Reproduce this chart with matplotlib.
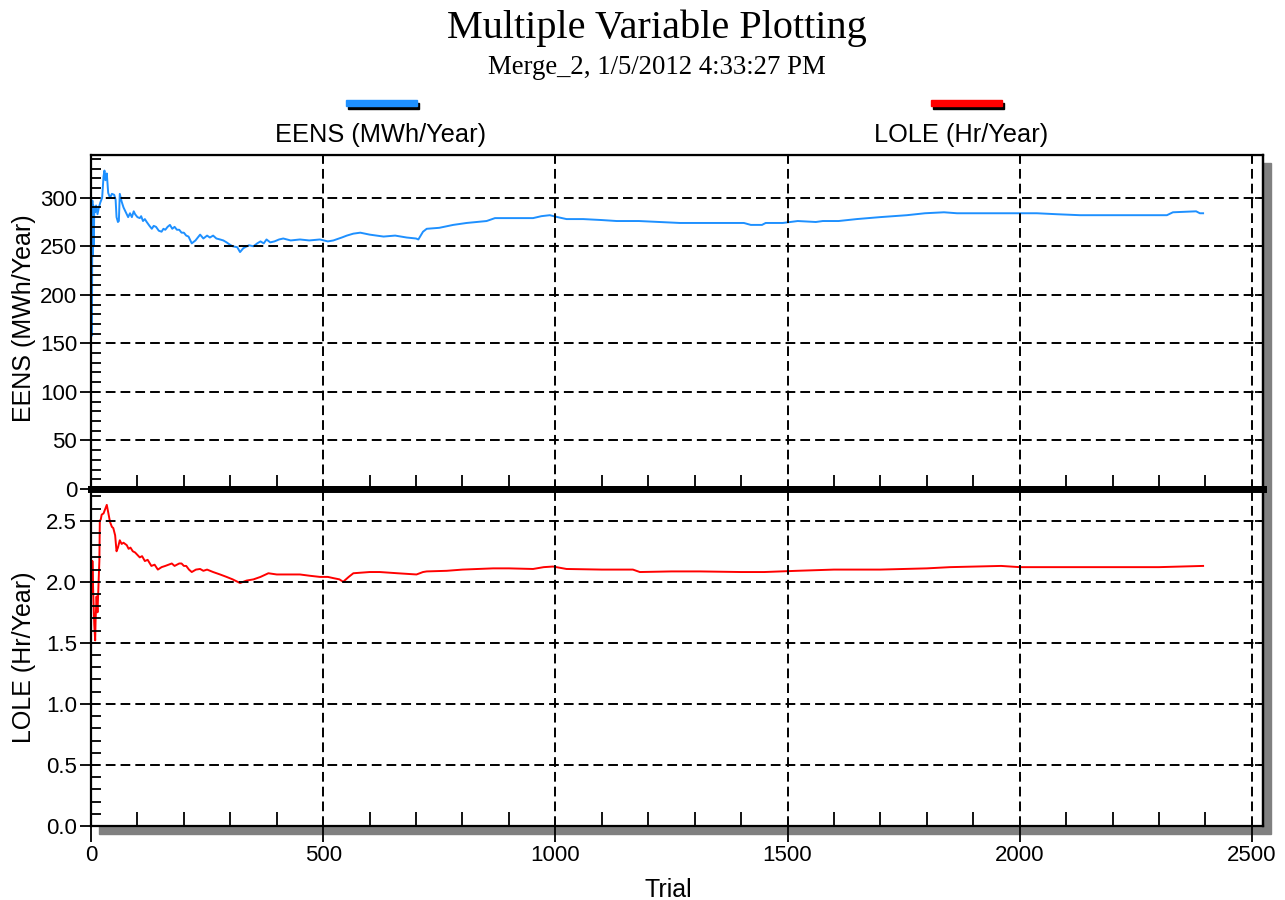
import matplotlib
matplotlib.use("Agg")
import matplotlib.pyplot as plt
from matplotlib.patches import Rectangle
from matplotlib.ticker import MultipleLocator, FormatStrFormatter

# figure size in pixels
W, H = 1285, 900

# EENS (MWh/Year)
eens_trial = [1, 2, 3, 4, 5, 6, 7, 9, 11, 14, 17, 20, 24, 27, 29, 31, 34, 37, 41, 45,
              50, 53, 55, 58, 60, 62, 66, 70, 75, 80, 84, 88, 92, 95, 100, 105, 108, 112,
              116, 120, 126, 131, 135, 140, 146, 152, 156, 160, 165, 170, 175, 180, 185,
              190, 195, 200, 205, 210, 217, 225, 230, 235, 242, 250, 256, 263, 270, 278,
              285, 292, 298, 305, 315, 321, 328, 340, 350, 358, 365, 372, 378, 386, 395,
              405, 414, 430, 450, 470, 493, 510, 522, 540, 551, 565, 580, 600, 630, 655,
              680, 700, 705, 715, 723, 750, 780, 809, 830, 852, 870, 900, 952, 970, 988,
              1005, 1024, 1060, 1100, 1132, 1180, 1225, 1268, 1311, 1350, 1406, 1421,
              1445, 1453, 1490, 1522, 1561, 1576, 1610, 1649, 1699, 1757, 1796, 1837,
              1865, 1950, 2037, 2080, 2130, 2214, 2280, 2317, 2330, 2380, 2388, 2395]
eens = [290, 158, 297, 240, 292, 250, 288, 285, 292, 283, 290, 295, 300, 322, 328, 318,
        325, 305, 300, 304, 303, 298, 280, 275, 276, 304, 296, 290, 285, 280, 284, 280,
        286, 283, 280, 279, 281, 276, 278, 275, 271, 268, 271, 270, 266, 265, 268, 267,
        270, 272, 268, 270, 267, 267, 264, 264, 261, 260, 253, 256, 259, 262, 258, 261,
        259, 261, 258, 257, 256, 254, 252, 250, 249, 244, 248, 251, 250, 253, 255, 253,
        257, 254, 255, 257, 258, 256, 257, 256, 257, 255, 256, 259, 261, 263, 264, 262,
        260, 261, 259, 258, 257, 265, 268, 269, 272, 274, 275, 276, 279, 279, 279, 281,
        282, 280, 278, 278, 277, 276, 276, 275, 274, 274, 274, 274, 272, 272, 274, 274,
        276, 275, 276, 276, 278, 280, 282, 284, 285, 284, 284, 284, 283, 282, 282, 282,
        282, 285, 286, 284, 284]

# LOLE (Hr/Year)
lole_trial = [1, 2, 3, 5, 7, 9, 10, 12, 14, 16, 18, 19, 21, 23, 27, 30, 34, 37, 41, 45,
              48, 52, 55, 58, 62, 66, 70, 77, 81, 85, 90, 95, 100, 105, 110, 116, 122,
              130, 137, 144, 152, 160, 167, 174, 180, 185, 190, 195, 200, 205, 211, 217,
              226, 235, 242, 250, 263, 278, 292, 305, 321, 335, 350, 365, 382, 400, 421,
              450, 470, 493, 510, 522, 535, 543, 555, 565, 600, 622, 660, 701, 715, 723,
              766, 800, 866, 900, 952, 975, 995, 1024, 1100, 1167, 1182, 1250, 1311, 1400,
              1450, 1520, 1600, 1700, 1800, 1850, 1960, 2000, 2100, 2200, 2300, 2395]
lole = [2.17, 1.90, 2.17, 1.88, 1.65, 1.52, 1.70, 1.88, 1.75, 1.96, 2.17, 2.50, 2.51,
        2.55, 2.56, 2.59, 2.63, 2.57, 2.49, 2.45, 2.44, 2.38, 2.25, 2.28, 2.34, 2.31,
        2.32, 2.30, 2.27, 2.28, 2.25, 2.24, 2.22, 2.20, 2.21, 2.17, 2.18, 2.13, 2.14,
        2.10, 2.12, 2.13, 2.14, 2.15, 2.13, 2.14, 2.15, 2.15, 2.13, 2.13, 2.10, 2.08,
        2.10, 2.105, 2.09, 2.10, 2.08, 2.06, 2.04, 2.02, 1.99, 2.01, 2.02, 2.04, 2.07,
        2.06, 2.06, 2.06, 2.05, 2.04, 2.04, 2.03, 2.02, 2.00, 2.04, 2.07, 2.08, 2.08,
        2.07, 2.06, 2.08, 2.085, 2.09, 2.10, 2.11, 2.11, 2.105, 2.12, 2.125, 2.105, 2.10,
        2.10, 2.08, 2.085, 2.085, 2.08, 2.08, 2.09, 2.10, 2.10, 2.11, 2.12, 2.13, 2.12,
        2.12, 2.12, 2.12, 2.13]

series_labels = ["EENS (MWh/Year)", "LOLE (Hr/Year)"]
series_colors = ["#1e90ff", "#ff0000"]


def fx(px):
    return px / W


def fy(py):
    return 1 - py / H


sans = "Liberation Sans"
serif = "Liberation Serif"

fig = plt.figure(figsize=(W / 100, H / 100), dpi=100)

left, right, top, mid, bottom = 91, 1263, 155, 489, 826
ax1 = fig.add_axes([fx(left), fy(mid), (right - left) / W, (mid - top) / H])
ax2 = fig.add_axes([fx(left), fy(bottom), (right - left) / W, (bottom - mid) / H])

# gray drop shadow behind the frame
fig.patches.append(Rectangle((fx(left + 8), fy(bottom + 8)), (right - left) / W,
                             (bottom - top) / H, transform=fig.transFigure,
                             color="#808080", zorder=-1))

ax1.plot(eens_trial, eens, color=series_colors[0], lw=1.4)
ax2.plot(lole_trial, lole, color=series_colors[1], lw=1.4)

ax1.set_ylim(0, 344)
ax2.set_ylim(0, 2.76)
ax1.yaxis.set_major_locator(MultipleLocator(50))
ax1.yaxis.set_minor_locator(MultipleLocator(10))
ax2.yaxis.set_major_locator(MultipleLocator(0.5))
ax2.yaxis.set_minor_locator(MultipleLocator(0.1))
ax2.yaxis.set_major_formatter(FormatStrFormatter("%.1f"))

for ax in (ax1, ax2):
    ax.set_xlim(0, 2524)
    ax.xaxis.set_major_locator(MultipleLocator(500))
    ax.xaxis.set_minor_locator(MultipleLocator(100))
    ax.tick_params(axis="x", which="major", direction="out", length=11.5, width=1.3,
                   labelsize=16, pad=2)
    ax.tick_params(axis="x", which="minor", direction="in", length=10, width=1.3)
    ax.tick_params(axis="y", which="major", direction="out", length=8, width=1.3,
                   labelsize=16, pad=2)
    ax.tick_params(axis="y", which="minor", direction="in", length=7, width=1.3)
    ax.grid(which="major", color="black", linestyle=(0, (5, 2.6)), linewidth=1.4)
    ax.set_axisbelow(False)
    for s in ax.spines.values():
        s.set_linewidth(1.6)
    for lab in ax.get_xticklabels() + ax.get_yticklabels():
        lab.set_family(sans)
    # inward ticks on the right side
    sec = ax.secondary_yaxis("right")
    sec.set_yticks(ax.get_yticks())
    sec.tick_params(direction="in", length=6, width=1.3, labelright=False)
    sec.spines["right"].set_linewidth(1.6)

ax1.tick_params(axis="x", which="major", labelbottom=False, length=0)
ax1.spines["bottom"].set_linewidth(5)
ax2.spines["top"].set_linewidth(5)
ax1.set_ylim(0, 344)
ax2.set_ylim(0, 2.76)

sec_top = ax1.secondary_xaxis("top")
sec_top.set_xticks([0, 500, 1000, 1500, 2000, 2500])
sec_top.tick_params(direction="in", length=6, width=1.3, labeltop=False)

ax1.set_ylabel(series_labels[0], family=sans, fontsize=18)
ax2.set_ylabel(series_labels[1], family=sans, fontsize=18)
ax1.yaxis.set_label_coords(-0.047, 0.51)
ax2.yaxis.set_label_coords(-0.047, 0.5)
ax2.set_xlabel("Trial", family=sans, fontsize=18)
ax2.xaxis.set_label_coords(0.493, -0.155)

# titles
fig.text(fx(657), fy(28), "Multiple Variable Plotting", family=serif, fontsize=29,
         ha="center", va="center")
fig.text(fx(657), fy(68), "Merge_2, 1/5/2012 4:33:27 PM", family=serif, fontsize=19.3,
         ha="center", va="center")

# legend header: colored bars with a dark shadow, labels underneath
for bx, cx, lab, col in zip([382, 967], [381, 961], series_labels, series_colors):
    fig.patches.append(Rectangle((fx(bx - 34), fy(109)), 71 / W, 6 / H,
                                 transform=fig.transFigure, color="black", zorder=2))
    fig.patches.append(Rectangle((fx(bx - 36), fy(106)), 71 / W, 6 / H,
                                 transform=fig.transFigure, color=col, zorder=3))
    fig.text(fx(cx), fy(135), lab, family=sans, fontsize=18.3, ha="center", va="center")

fig.savefig("out.png", dpi=100)
